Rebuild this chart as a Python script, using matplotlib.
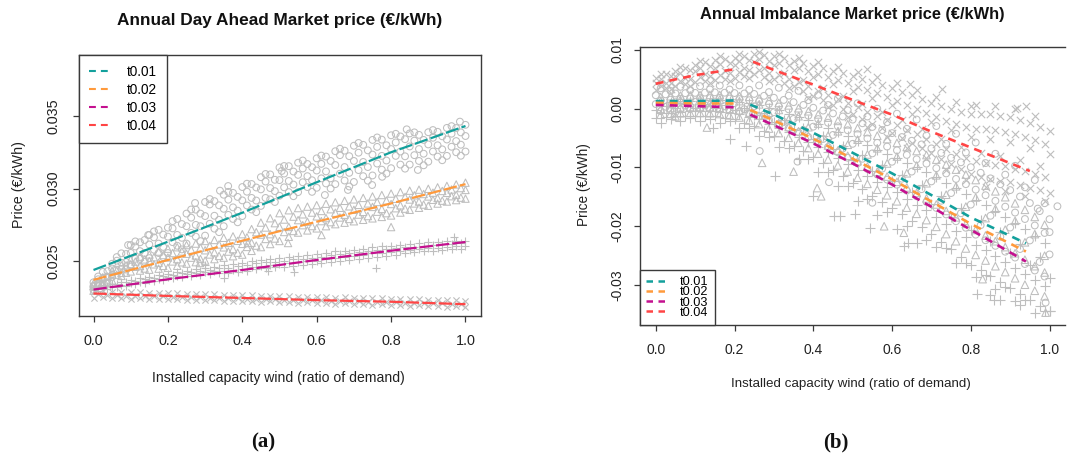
import matplotlib
matplotlib.use("Agg")
import matplotlib.pyplot as plt
from matplotlib.lines import Line2D
import numpy as np

plt.rcParams['font.family'] = ['Liberation Sans', 'DejaVu Sans']

# ---------------- data (prices in units of 1e-5 EUR/kWh) ----------------
UNIT = 1e-5
xg_even = [0.000, 0.025, 0.050, 0.075, 0.100, 0.125, 0.150, 0.175, 0.200, 0.225,
           0.250, 0.275, 0.300, 0.325, 0.350, 0.375, 0.400, 0.425, 0.450, 0.475,
           0.500, 0.525, 0.550, 0.575, 0.600, 0.625, 0.650, 0.675, 0.700, 0.725,
           0.750, 0.775, 0.800, 0.825, 0.850, 0.875, 0.900, 0.925, 0.950, 0.975, 1.000]
xg_odd = [0.0125, 0.0375, 0.0625, 0.0875, 0.1125, 0.1375, 0.1625, 0.1875, 0.2125, 0.2375,
          0.2625, 0.2875, 0.3125, 0.3375, 0.3625, 0.3875, 0.4125, 0.4375, 0.4625, 0.4875,
          0.5125, 0.5375, 0.5625, 0.5875, 0.6125, 0.6375, 0.6625, 0.6875, 0.7125, 0.7375,
          0.7625, 0.7875, 0.8125, 0.8375, 0.8625, 0.8875, 0.9125, 0.9375, 0.9625, 0.9875]

series_names = ["t0.01", "t0.02", "t0.03", "t0.04"]
line_colors = ["#13A09C", "#FF9A3C", "#C4108F", "#FF4545"]
point_color = "#BEBEBE"

# ---- Panel (a): Day Ahead market, scatter rows (41 values -> xg_even, 40 -> xg_odd)
a_circ = [
    [2353, 2425, 2481, 2553, 2610, 2629, 2680, 2715, 2730, 2790, 2827, 2854, 2907, 2913, 2957, 2970, 3010, 3031, 3078, 3097, 3145, 3154, 3178, 3169, 3208, 3220, 3257, 3261, 3295, 3301, 3335, 3337, 3367, 3359, 3380, 3370, 3388, 3391, 3418, 3417, 3439],
    [2374, 2430, 2502, 2548, 2600, 2645, 2663, 2682, 2725, 2755, 2799, 2827, 2890, 2884, 2923, 2942, 2978, 3007, 3048, 3060, 3103, 3117, 3138, 3147, 3170, 3190, 3230, 3223, 3247, 3263, 3287, 3298, 3318, 3340, 3330, 3335, 3350, 3360, 3378, 3387],
    [2328, 2380, 2448, 2488, 2556, 2568, 2614, 2620, 2668, 2680, 2740, 2749, 2810, 2812, 2860, 2870, 2918, 2935, 2994, 3003, 3058, 3052, 3094, 3085, 3124, 3118, 3162, 3148, 3190, 3183, 3234, 3225, 3272, 3255, 3290, 3272, 3304, 3298, 3338, 3327, 3362],
    [2340, 2390, 2440, 2493, 2515, 2555, 2578, 2597, 2630, 2660, 2694, 2740, 2757, 2784, 2818, 2847, 2883, 2917, 2935, 2982, 3008, 3027, 3043, 3057, 3070, 3070, 3102, 3108, 3127, 3148, 3172, 3193, 3225, 3222, 3230, 3240, 3255, 3270, 3288, 3302],
    [2300, 2345, 2390, 2445, 2475, 2515, 2520, 2555, 2555, 2605, 2620, 2668, 2675, 2723, 2740, 2790, 2810, 2855, 2880, 2925, 2950, 2975, 2975, 3010, 3005, 3035, 3030, 3055, 3045, 3085, 3090, 3130, 3140, 3165, 3165, 3190, 3185, 3220, 3225, 3250, 3255],
    [2393, 2352, 2527, 2441, 2635, 2494, 2704, 2526, 2775, 2580, 2855, 2637, 2927, 2699, 2977, 2767, 3033, 2837, 3100, 2907, 3155, 2947, 3193, 2977, 3227, 3000, 3274, 3014, 3314, 3054, 3352, 3103, 3377, 3137, 3387, 3160, 3403, 3195, 3430, 3226],
]
a_circ_out_x = [0.093, 0.147, 0.273, 0.34, 0.362, 0.506, 0.622, 0.684, 0.749, 0.776, 0.842, 0.872, 0.985]
a_circ_out_y = [2610, 2679, 2900, 2985, 3017, 3121, 2955, 2990, 3024, 3081, 3408, 3128, 3461]

a_tri = [
    [2344, 2388, 2430, 2470, 2510, 2530, 2545, 2565, 2585, 2595, 2610, 2620, 2638, 2645, 2660, 2670, 2685, 2720, 2765, 2795, 2830, 2850, 2865, 2875, 2885, 2895, 2905, 2915, 2925, 2935, 2945, 2955, 2965, 2975, 2985, 2992, 2998, 3008, 3018, 3028, 3040],
    [2352, 2394, 2433, 2470, 2496, 2511, 2526, 2541, 2555, 2566, 2578, 2592, 2604, 2614, 2625, 2639, 2663, 2699, 2731, 2761, 2786, 2806, 2822, 2834, 2845, 2857, 2867, 2877, 2887, 2897, 2907, 2917, 2929, 2942, 2953, 2962, 2971, 2983, 2993, 3003],
    [2329, 2345, 2408, 2418, 2477, 2465, 2500, 2488, 2524, 2513, 2550, 2538, 2574, 2560, 2594, 2582, 2618, 2626, 2682, 2685, 2736, 2735, 2782, 2771, 2808, 2796, 2833, 2819, 2853, 2839, 2873, 2859, 2893, 2884, 2924, 2910, 2945, 2934, 2970, 2956, 2990],
    [2334, 2352, 2406, 2419, 2460, 2448, 2477, 2466, 2497, 2491, 2523, 2514, 2545, 2535, 2565, 2557, 2597, 2606, 2652, 2655, 2700, 2707, 2747, 2741, 2775, 2768, 2800, 2790, 2820, 2810, 2840, 2830, 2864, 2861, 2897, 2889, 2922, 2916, 2947, 2937],
    [2295, 2331, 2366, 2397, 2428, 2434, 2440, 2447, 2453, 2467, 2482, 2492, 2503, 2513, 2523, 2533, 2544, 2570, 2596, 2617, 2638, 2667, 2696, 2711, 2725, 2740, 2754, 2764, 2774, 2784, 2794, 2804, 2814, 2834, 2853, 2867, 2881, 2896, 2910, 2920, 2930],
]
a_tri_out_x = [0.286, 0.415, 0.523, 0.613, 0.80]
a_tri_out_y = [2486, 2624, 2624, 2679, 2734]

a_plus = [
    [2322, 2333, 2344, 2358, 2372, 2382, 2392, 2402, 2412, 2422, 2432, 2442, 2451, 2460, 2470, 2479, 2488, 2498, 2508, 2513, 2518, 2527, 2536, 2541, 2546, 2556, 2566, 2571, 2576, 2586, 2596, 2601, 2606, 2612, 2618, 2623, 2628, 2633, 2638, 2639, 2640],
    [2317, 2327, 2340, 2354, 2365, 2375, 2385, 2395, 2405, 2415, 2423, 2433, 2439, 2449, 2455, 2465, 2473, 2483, 2490, 2496, 2501, 2511, 2516, 2522, 2529, 2539, 2546, 2552, 2559, 2569, 2576, 2582, 2588, 2594, 2600, 2606, 2610, 2616, 2619, 2621],
    [2298, 2311, 2324, 2336, 2348, 2358, 2368, 2378, 2388, 2398, 2408, 2414, 2421, 2428, 2434, 2441, 2448, 2458, 2468, 2473, 2478, 2485, 2492, 2497, 2502, 2512, 2522, 2527, 2532, 2542, 2552, 2557, 2562, 2570, 2578, 2583, 2588, 2593, 2598, 2601, 2605],
    [2293, 2306, 2319, 2330, 2340, 2350, 2360, 2370, 2380, 2390, 2397, 2404, 2408, 2415, 2419, 2426, 2433, 2443, 2450, 2456, 2460, 2467, 2471, 2477, 2484, 2494, 2501, 2507, 2514, 2524, 2531, 2537, 2544, 2553, 2560, 2566, 2570, 2576, 2580, 2585],
]
a_plus_out_x = [0.30, 0.35, 0.47, 0.54, 0.76, 0.97]
a_plus_out_y = [2470, 2380, 2430, 2424, 2452, 2668]

a_xm = [
    [2292, 2292, 2287, 2289, 2284, 2285, 2281, 2281, 2278, 2278, 2274, 2275, 2271, 2271, 2268, 2268, 2265, 2265, 2261, 2262, 2258, 2258, 2255, 2255, 2252, 2252, 2248, 2249, 2245, 2245, 2242, 2242, 2239, 2239, 2235, 2236, 2232, 2232, 2229, 2229, 2226],
    [2269, 2266, 2264, 2262, 2261, 2259, 2257, 2256, 2254, 2252, 2251, 2249, 2247, 2246, 2244, 2243, 2241, 2239, 2238, 2236, 2234, 2233, 2231, 2230, 2228, 2226, 2225, 2223, 2221, 2220, 2218, 2217, 2215, 2213, 2212, 2210, 2208, 2207, 2205, 2204],
    [2248, 2250, 2245, 2247, 2241, 2244, 2238, 2240, 2235, 2237, 2231, 2234, 2228, 2230, 2225, 2227, 2222, 2224, 2218, 2221, 2215, 2217, 2212, 2214, 2209, 2211, 2205, 2208, 2202, 2204, 2199, 2201, 2196, 2198, 2192, 2195, 2189, 2191, 2186, 2188, 2183],
]

a_line_x = [0.0, 0.2, 0.4, 0.6, 0.8, 1.0]
a_line_t001 = [2438, 2633, 2833, 3043, 3250, 3431]
a_line_t002 = [2370, 2507, 2640, 2771, 2897, 3030]
a_line_t003 = [2303, 2374, 2438, 2507, 2571, 2631]
a_line_t004 = [2276, 2259, 2245, 2230, 2219, 2202]

# ---- Panel (b): Imbalance market
b_circ = [
    [230, 245, 260, 265, 270, 275, 279, 273, 267, 260, 252, 220, 187, 150, 112, 65, 17, -31, -79, -132, -185, -247, -310, -362, -415, -482, -545, -607, -675, -752, -835, -912, -995, -1090, -1185, -1285, -1385, -1495, -1605, -1742, -1880],
    [140, 155, 170, 175, 180, 182, 185, 174, 164, 145, 126, 82, 39, -10, -59, -118, -176, -238, -299, -366, -432, -506, -580, -644, -707, -786, -860, -934, -1012, -1101, -1195, -1284, -1377, -1472, -1567, -1667, -1767, -1877, -1987, -2114],
    [80, 35, 110, 55, 120, 59, 122, 42, 95, -8, 42, -101, -60, -223, -173, -361, -305, -514, -446, -678, -597, -851, -760, -1019, -902, -1191, -1070, -1369, -1237, -1566, -1435, -1779, -1632, -1983, -1822, -2178, -2022, -2388, -2242, -2609, -2480],
    [-40, -25, -10, -5, 0, -2, -5, -24, -44, -85, -126, -192, -259, -330, -401, -482, -564, -652, -741, -834, -928, -1024, -1120, -1206, -1293, -1394, -1490, -1586, -1688, -1799, -1915, -2026, -2143, -2238, -2333, -2433, -2533, -2643, -2753, -2856],
    [348, 303, 373, 318, 384, 329, 395, 327, 397, 323, 397, 283, 357, 223, 305, 146, 237, 63, 172, -25, 93, -132, 1, -229, -84, -342, -184, -456, -294, -597, -426, -744, -575, -925, -767, -1122, -972, -1337, -1213, -1608],
]
b_circ_out_x = [0.264, 0.36, 0.44, 0.55, 0.97, 1.0, 0.99, 1.02]
b_circ_out_y = [-720, -900, -1250, -1600, -1700, -2100, -3300, -1660]

b_tri = [
    [198, 213, 223, 228, 232, 236, 234, 226, 215, 203, 177, 140, 100, 58, 10, -42, -96, -150, -206, -265, -329, -396, -459, -516, -581, -651, -719, -788, -866, -951, -1036, -1121, -1213, -1308, -1405, -1505, -1610, -1720, -1841, -1974],
    [128, 83, 153, 98, 161, 101, 158, 79, 130, 29, 75, -67, -20, -181, -127, -314, -252, -459, -383, -613, -526, -778, -673, -931, -813, -1098, -968, -1268, -1133, -1463, -1320, -1666, -1510, -1861, -1702, -2058, -1907, -2273, -2134, -2502],
    [-2, 13, 23, 28, 29, 28, 18, 0, -28, -65, -116, -178, -243, -310, -383, -460, -542, -626, -712, -801, -892, -984, -1072, -1154, -1244, -1339, -1432, -1526, -1629, -1739, -1849, -1959, -2063, -2158, -2255, -2355, -2460, -2570, -2679, -2787],
    [-102, -87, -77, -72, -72, -76, -89, -112, -149, -199, -262, -337, -414, -494, -579, -669, -764, -863, -964, -1068, -1173, -1278, -1378, -1473, -1575, -1683, -1788, -1895, -2010, -2133, -2255, -2378, -2488, -2583, -2680, -2780, -2885, -2995, -3098, -3193],
]
b_tri_out_x = [0.05, 0.13, 0.27, 0.35, 0.41, 0.42, 0.58, 0.63, 0.83, 0.99]
b_tri_out_y = [-130, -320, -920, -1070, -1350, -1490, -2000, -2110, -2900, -3470]

b_plus = [
    [100, 115, 130, 135, 140, 141, 143, 130, 118, 94, 70, 21, -28, -81, -135, -199, -263, -330, -398, -470, -543, -621, -700, -769, -838, -921, -1000, -1079, -1163, -1256, -1355, -1449, -1548, -1643, -1738, -1838, -1938, -2048, -2158, -2279],
    [-20, 55, 10, 75, 20, 80, 16, 64, -21, 17, -98, -70, -226, -188, -363, -320, -521, -468, -692, -626, -873, -794, -1060, -956, -1228, -1124, -1420, -1296, -1613, -1489, -1835, -1696, -2058, -1897, -2248, -2092, -2448, -2302, -2668, -2526, -2880],
    [-80, -65, -50, -45, -40, -43, -47, -68, -90, -136, -182, -253, -325, -401, -477, -563, -650, -744, -839, -938, -1038, -1139, -1240, -1331, -1423, -1529, -1630, -1731, -1838, -1954, -2075, -2191, -2313, -2408, -2503, -2603, -2703, -2813, -2923, -3021],
    [-160, -145, -130, -125, -120, -125, -131, -156, -182, -238, -294, -375, -457, -543, -629, -725, -822, -928, -1035, -1146, -1258, -1369, -1480, -1581, -1683, -1799, -1910, -2021, -2138, -2264, -2395, -2521, -2653, -2748, -2843, -2943, -3043, -3153, -3263, -3351, -3440],
    [-242, -177, -217, -162, -215, -170, -240, -213, -320, -320, -468, -481, -655, -660, -855, -858, -1076, -1077, -1318, -1309, -1568, -1543, -1808, -1761, -2040, -1993, -2288, -2228, -2354, -2370, -2621, -2630, -2871, -2838, -3063, -3035, -3268, -3250, -3476, -3437],
]
b_plus_out_x = [0.145, 0.188, 0.23, 0.303, 0.40, 0.452, 0.468, 0.505, 0.545, 0.63, 0.64, 0.816, 0.85, 0.86, 0.875, 0.925, 1.0]
b_plus_out_y = [-320, -520, -640, -1150, -1490, -1830, -1830, -1800, -2025, -2340, -2280, -3160, -3170, -3250, -3250, -3340, -3450]

b_xm = [
    [522, 585, 648, 700, 753, 792, 830, 850, 870, 900, 930, 913, 896, 858, 821, 778, 735, 692, 649, 601, 553, 505, 457, 405, 353, 290, 228, 162, 95, 41, -12, -51, -90, -94, -97, -122, -147, -197, -247, -310, -373],
    [503, 559, 611, 658, 698, 733, 760, 780, 805, 835, 839, 815, 782, 739, 692, 641, 590, 539, 486, 430, 374, 318, 261, 202, 138, 70, 0, -70, -137, -201, -257, -305, -337, -351, -370, -395, -432, -482, -536, -592],
    [444, 443, 550, 527, 636, 592, 700, 640, 740, 690, 800, 687, 746, 601, 652, 484, 540, 356, 428, 223, 306, 85, 184, -52, 60, -198, -84, -353, -230, -510, -370, -655, -480, -750, -520, -805, -570, -880, -670, -977, -776],
    [387, 431, 469, 502, 532, 557, 580, 600, 625, 655, 651, 615, 568, 511, 448, 379, 310, 241, 170, 96, 22, -52, -125, -196, -274, -356, -436, -516, -599, -685, -763, -835, -889, -925, -956, -981, -1018, -1068, -1114, -1158],
    [318, 355, 392, 420, 447, 468, 490, 510, 530, 560, 590, 547, 504, 442, 379, 302, 225, 148, 71, -11, -93, -175, -257, -335, -413, -500, -588, -672, -755, -851, -948, -1029, -1110, -1156, -1203, -1228, -1253, -1303, -1353, -1390, -1427],
    [586, 338, 714, 390, 819, 430, 890, 470, 935, 525, 974, 470, 937, 347, 867, 191, 791, 27, 713, -144, 627, -318, 539, -484, 436, -663, 316, -838, 196, -1035, 109, -1217, 61, -1340, 52, -1403, -10, -1490, -118, -1566],
]
b_xm_out_x = [0.536, 0.645, 0.727, 0.80, 0.917, 0.94]
b_xm_out_y = [670, 415, 330, 45, 20, 40]

b_seg1_x = [0.0, 0.05, 0.10, 0.15, 0.20]
b_seg2_x = [0.24, 0.30, 0.40, 0.50, 0.60, 0.70, 0.80, 0.94]
b_red_seg2_x = [0.247, 0.30, 0.40, 0.50, 0.60, 0.70, 0.80, 0.95]
b_t001_seg1 = [130, 130, 130, 135, 140]
b_t002_seg1 = [100, 95, 90, 90, 90]
b_t003_seg1 = [65, 55, 45, 35, 25]
b_t004_seg1 = [425, 500, 570, 625, 670]
b_t001_seg2 = [70, -100, -410, -750, -1100, -1470, -1850, -2290]
b_t002_seg2 = [-20, -200, -510, -850, -1200, -1580, -1960, -2430]
b_t003_seg2 = [-100, -280, -590, -930, -1290, -1670, -2060, -2600]
b_t004_seg2 = [800, 660, 410, 150, -100, -390, -660, -1060]

# ---------------- figure ----------------
W, H = 1067, 457
fig = plt.figure(figsize=(W / 100, H / 100), dpi=100)


def ax_rect(l, t, r, b):
    return [l / W, 1 - b / H, (r - l) / W, (b - t) / H]


def draw_pts(ax, xs, ys, marker, s, lw):
    ax.scatter(xs, np.array(ys) * UNIT, marker=marker, s=s,
               facecolors='none' if marker in ('o', '^') else point_color,
               edgecolors=point_color, linewidths=lw, zorder=2)


def scatter_rows(ax, rows, marker, s, lw):
    for row in rows:
        xs = xg_even if len(row) == len(xg_even) else xg_odd
        draw_pts(ax, xs, row, marker, s, lw)


def style_axes(ax, fs, ypad, xpad):
    for sp in ax.spines.values():
        sp.set_color('#3a3a3a')
        sp.set_linewidth(1.0)
    ax.tick_params(direction='out', length=4, width=0.9, colors='#3a3a3a',
                   labelcolor='#222222', labelsize=fs)
    ax.tick_params(axis='y', pad=ypad)
    ax.tick_params(axis='x', pad=xpad)
    for lab in ax.get_yticklabels():
        lab.set_rotation(90)
        lab.set_va('center')


# ---- Panel (a)
axa = fig.add_axes(ax_rect(79, 55, 481, 316))
scatter_rows(axa, a_circ, 'o', 24, 0.75)
draw_pts(axa, a_circ_out_x, a_circ_out_y, 'o', 24, 0.75)
scatter_rows(axa, a_tri, '^', 28, 0.75)
draw_pts(axa, a_tri_out_x, a_tri_out_y, '^', 28, 0.75)
scatter_rows(axa, a_plus, '+', 40, 0.8)
draw_pts(axa, a_plus_out_x, a_plus_out_y, '+', 40, 0.8)
scatter_rows(axa, a_xm, 'x', 20, 0.8)

a_lines = [a_line_t001, a_line_t002, a_line_t003, a_line_t004]
for vals, c in zip(a_lines, line_colors):
    axa.plot(a_line_x, np.array(vals) * UNIT, color=c, lw=1.6,
             dashes=(6, 1.4), zorder=3)

axa.set_xlim(-0.039, 1.0417)
axa.set_ylim(0.021207, 0.039207)
axa.set_xticks([0.0, 0.2, 0.4, 0.6, 0.8, 1.0])
axa.set_xticklabels(['0.0', '0.2', '0.4', '0.6', '0.8', '1.0'])
axa.set_yticks([0.025, 0.030, 0.035])
axa.set_yticklabels(['0.025', '0.030', '0.035'])
style_axes(axa, 10.4, 9, 9)

handles_a = [Line2D([0], [0], color=c, lw=1.5, dashes=(3.3, 2.4)) for c in line_colors]
lega = axa.legend(handles_a, series_names, loc='upper left', bbox_to_anchor=(0, 1),
                  borderaxespad=0, frameon=True, fancybox=False, framealpha=1,
                  edgecolor='#3a3a3a', fontsize=9.8, handlelength=1.55,
                  handletextpad=1.2, borderpad=0.75, labelspacing=0.28)
lega.get_frame().set_linewidth(1.0)
lega.set_zorder(5)

# ---- Panel (b)
axb = fig.add_axes(ax_rect(640, 47, 1065.3, 325))
scatter_rows(axb, b_xm, 'x', 28, 0.8)
draw_pts(axb, b_xm_out_x, b_xm_out_y, 'x', 28, 0.8)
scatter_rows(axb, b_circ, 'o', 24, 0.75)
draw_pts(axb, b_circ_out_x, b_circ_out_y, 'o', 24, 0.75)
scatter_rows(axb, b_tri, '^', 30, 0.75)
draw_pts(axb, b_tri_out_x, b_tri_out_y, '^', 30, 0.75)
scatter_rows(axb, b_plus, '+', 50, 0.8)
draw_pts(axb, b_plus_out_x, b_plus_out_y, '+', 50, 0.8)

b_seg1 = [b_t001_seg1, b_t002_seg1, b_t003_seg1, b_t004_seg1]
b_seg2 = [b_t001_seg2, b_t002_seg2, b_t003_seg2, b_t004_seg2]
for i, c in enumerate(line_colors):
    axb.plot(b_seg1_x, np.array(b_seg1[i]) * UNIT, color=c, lw=1.9,
             dashes=(3.0, 2.3), zorder=3)
    sx = b_red_seg2_x if i == 3 else b_seg2_x
    axb.plot(sx, np.array(b_seg2[i]) * UNIT, color=c, lw=1.9,
             dashes=(3.0, 2.3), zorder=3)

axb.set_xlim(-0.04, 1.04)
axb.set_ylim(-0.03681, 0.01051)
axb.set_xticks([0.0, 0.2, 0.4, 0.6, 0.8, 1.0])
axb.set_xticklabels(['0.0', '0.2', '0.4', '0.6', '0.8', '1.0'])
axb.set_yticks([-0.03, -0.02, -0.01, 0.0, 0.01])
axb.set_yticklabels(['-0.03', '-0.02', '-0.01', '0.00', '0.01'])
style_axes(axb, 10.0, 7, 9)
axb.spines['right'].set_visible(False)

handles_b = [Line2D([0], [0], color=c, lw=1.8, dashes=(2.6, 2.2)) for c in line_colors]
legb = axb.legend(handles_b, series_names, loc='lower left', bbox_to_anchor=(0, 0),
                  borderaxespad=0, frameon=True, fancybox=False, framealpha=1,
                  edgecolor='#3a3a3a', fontsize=9.2, handlelength=1.6,
                  handletextpad=1.0, borderpad=0.5, labelspacing=-0.15)
legb.get_frame().set_linewidth(1.0)
legb.set_zorder(5)

# ---- titles and labels
def ftext(px, py, s, **kw):
    fig.text(px / W, 1 - py / H, s, ha='center', va='center', **kw)


ftext(280, 21, "Annual Day Ahead Market price (€/kWh)", fontsize=12.4,
      fontweight='bold', color='#111111')
ftext(852, 14, "Annual Imbalance Market price (€/kWh)", fontsize=11.8,
      fontweight='bold', color='#111111')
ftext(278, 378, "Installed capacity wind (ratio of demand)", fontsize=10.1, color='#222222')
ftext(851, 384, "Installed capacity wind (ratio of demand)", fontsize=9.6, color='#222222')
ftext(19, 185, "Price (€/kWh)", fontsize=10.3, rotation=90, color='#222222')
ftext(584, 185, "Price (€/kWh)", fontsize=9.8, rotation=90, color='#222222')
ftext(263, 442, "(a)", fontsize=15, fontweight='bold', family='Liberation Serif', color='#111111')
ftext(836, 442, "(b)", fontsize=15, fontweight='bold', family='Liberation Serif', color='#111111')

fig.savefig("out.png", dpi=100)
